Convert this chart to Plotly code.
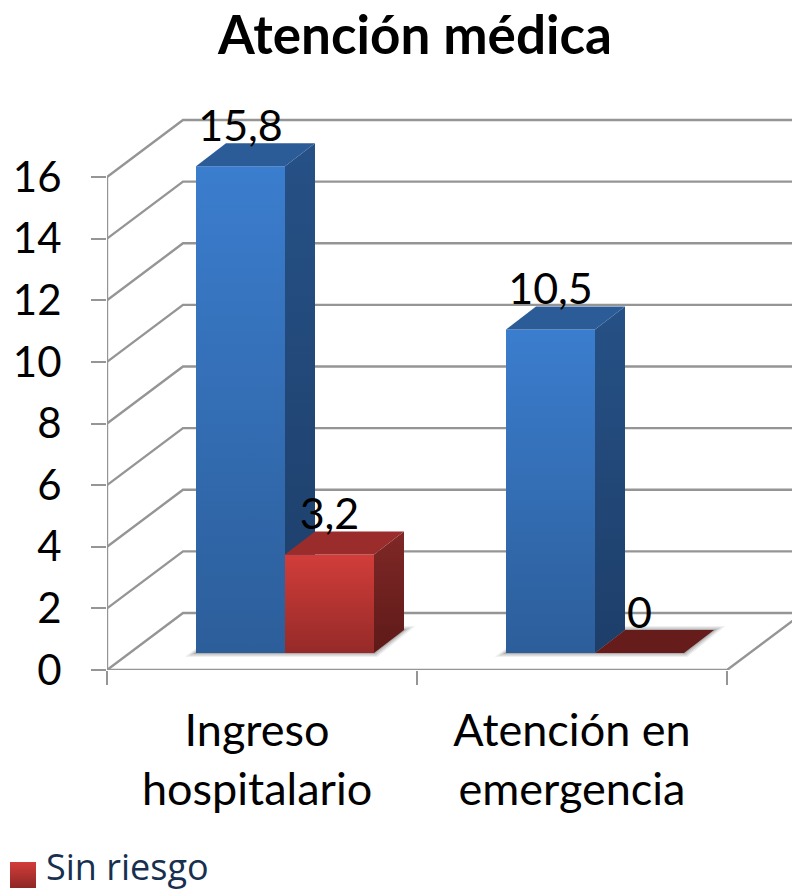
import plotly.graph_objects as go

# ---- data ----
CATEGORIES = ["Ingreso<br>hospitalario", "Atención en<br>emergencia"]
SERIES_A = [15.8, 10.5]
SERIES_B = [3.2, 0]
SERIES_B_NAME = "Sin riesgo"
Y_TICKS = [0, 2, 4, 6, 8, 10, 12, 14, 16]
TITLE = "Atención médica"

# ---- layout geometry ----
W, H = 792, 896
LEFT, BOTTOM, TOP = 107, 226, 90
PX_X = 310.0     # pixels per category
PX_Y = 30.81     # pixels per value unit
X_MAX = (W - LEFT) / PX_X
Y_MAX = (H - BOTTOM - TOP) / PX_Y
WALL_DX, WALL_DY = 76 / PX_X, 57 / PX_Y
BAR_DX, BAR_DY = 30 / PX_X, 23 / PX_Y
BAR_W = 89 / PX_X
BAR_START = 89 / PX_X
FLOOR = 17 / PX_Y
LABEL_UP = 36 / PX_Y

GRID = "#959595"
FONT = "Lato"
FS = 42

fig = go.Figure()


def line(xs, ys):
    fig.add_trace(go.Scatter(x=xs, y=ys, mode="lines", line=dict(color=GRID, width=2.4),
                             showlegend=False, hoverinfo="skip"))


def poly(xs, ys, top, bottom=None, name=None):
    kw = dict(fillcolor=top)
    if bottom is not None:
        kw = dict(fillgradient=dict(type="vertical", colorscale=[[0, bottom], [1, top]]))
    fig.add_trace(go.Scatter(x=xs + xs[:1], y=ys + ys[:1], mode="lines", line=dict(width=0),
                             fill="toself", showlegend=False, hoverinfo="skip", **kw))


# walls and floor
for t in Y_TICKS:
    line([0, WALL_DX, X_MAX], [t, t + WALL_DY, t + WALL_DY])
line([0, 0], [0, Y_TICKS[-1]])
line([0, 2, 2 + WALL_DX], [0, 0, WALL_DY])

# floor shadows
for i in range(len(CATEGORIES)):
    x0 = i + BAR_START
    x1 = x0 + 2 * BAR_W
    for grow, col in [(11, "rgba(110,110,110,0.14)"), (7, "rgba(110,110,110,0.22)"), (3, "rgba(110,110,110,0.32)")]:
        gx, gy = grow / PX_X, grow / PX_Y * 0.35
        poly([x0 - gx, x1 + gx * 0.3, x1 + BAR_DX + gx, x0 + BAR_DX],
             [FLOOR - gy, FLOOR - gy, FLOOR + BAR_DY + gy, FLOOR + BAR_DY + gy], col)

A_STYLE = dict(front=("#3B7DCE", "#2C5E9A"), side=("#265186", "#1D3E69"), top="#2B5C98")
B_STYLE = dict(front=("#D23D3A", "#952A28"), side=("#7F2827", "#5E1A18"), top="#9A2D2B", flat="#661C1A")


def box(x0, v, s):
    x1 = x0 + BAR_W
    y0, y1 = FLOOR, FLOOR + v
    if v > 0:
        poly([x1, x1 + BAR_DX, x1 + BAR_DX, x1], [y0, y0 + BAR_DY, y1 + BAR_DY, y1], *s["side"])
        poly([x0, x1, x1, x0], [y0, y0, y1, y1], *s["front"])
    poly([x0, x1, x1 + BAR_DX, x0 + BAR_DX], [y1, y1, y1 + BAR_DY, y1 + BAR_DY],
         s["top"] if v > 0 else s["flat"])


for i in range(len(CATEGORIES)):
    box(i + BAR_START, SERIES_A[i], A_STYLE)
    box(i + BAR_START + BAR_W, SERIES_B[i], B_STYLE)

# data labels
lab_x, lab_y, lab_t = [], [], []
for i in range(len(CATEGORIES)):
    for k, vals in enumerate((SERIES_A, SERIES_B)):
        lab_x.append(i + BAR_START + (k + 0.5) * BAR_W)
        lab_y.append(FLOOR + vals[i] + LABEL_UP)
        lab_t.append(f"{vals[i]:g}".replace(".", ","))
fig.add_trace(go.Scatter(x=lab_x, y=lab_y, text=lab_t, mode="text", textposition="middle center",
                         textfont=dict(family=FONT, size=FS + 1, color="black"),
                         showlegend=False, hoverinfo="skip"))

# legend entry (swatch and label below the plot, on a full-page second axis pair)
fig.add_trace(go.Scatter(x=[23], y=[875], mode="markers", xaxis="x2", yaxis="y2",
                         showlegend=False, name=SERIES_B_NAME,
                         marker=dict(symbol="square", size=26, color="#D23D3A", line=dict(width=0),
                                     gradient=dict(type="vertical", color="#8E2725"))))
fig.add_trace(go.Scatter(x=[46], y=[871], mode="text", xaxis="x2", yaxis="y2",
                         text=[SERIES_B_NAME], textposition="middle right",
                         textfont=dict(family="Open Sans", size=36, color="#17304F"),
                         showlegend=False, name=SERIES_B_NAME))

fig.update_layout(
    width=W, height=H, autosize=False,
    margin=dict(l=0, r=0, t=0, b=0, pad=0, autoexpand=False),
    paper_bgcolor="white", plot_bgcolor="rgba(0,0,0,0)",
    font=dict(family=FONT, color="black"),
    title=dict(text=f"<b>{TITLE}</b>", x=415 / W, xanchor="center", xref="container",
               y=1 - 35 / H, yanchor="middle", font=dict(family=FONT, size=53, color="black")),
    xaxis=dict(domain=[LEFT / W, 1], range=[0, X_MAX], showgrid=False, zeroline=False, showline=False,
               tickmode="array", tickvals=[0.484, 1.5], ticktext=CATEGORIES,
               ticks="", tickfont=dict(family=FONT, size=45, color="black"), ticklabelstandoff=30,
               minor=dict(tickmode="array", tickvals=[0, 1, 2], ticks="outside", ticklen=14,
                          tickwidth=2, tickcolor=GRID)),
    yaxis=dict(domain=[BOTTOM / H, 1 - TOP / H], range=[0, Y_MAX], showgrid=False, zeroline=False,
               showline=False, tickmode="array", tickvals=Y_TICKS, ticks="outside", ticklen=15,
               tickwidth=2, tickcolor=GRID, tickfont=dict(family=FONT, size=FS, color="black"),
               ticklabelstandoff=21),
    xaxis2=dict(domain=[0, 1], range=[0, W], visible=False, anchor="y2"),
    yaxis2=dict(domain=[0, 1], range=[H, 0], visible=False, anchor="x2"),
    showlegend=False,
)

fig.write_html("out.html", config={"displayModeBar": False},
               post_script="document.body.style.margin='0';")
